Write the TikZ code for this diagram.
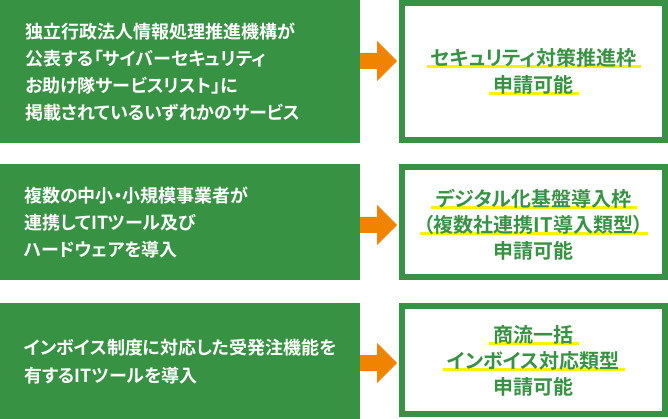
\documentclass[tikz,border=0pt]{standalone}
\usepackage{fontspec}
\newfontfamily\jpb{Noto Sans CJK JP}[BoldFont={* Bold},RawFeature=+palt]
\definecolor{grn}{RGB}{56,146,67}
\definecolor{org}{RGB}{240,131,0}
\definecolor{ylw}{RGB}{255,240,0}
\pgfdeclarelayer{bg}
\pgfsetlayers{bg,main}
\tikzset{
  leftbox/.style={fill=grn},
  rightbox/.style={draw=grn, line width=6pt},
  lefttxt/.style={anchor=base west, inner sep=0pt, align=left, text=white,
    font=\jpb\bfseries\fontsize{18}{27.2}\selectfont},
  righttxt/.style={anchor=base, inner sep=0pt, text=grn,
    font=\jpb\bfseries\fontsize{20}{26}\selectfont},
  hlline/.style={draw=ylw, line width=3pt},
  arr/.style={fill=org}
}
\newcommand{\hl}[1]{\begin{pgfonlayer}{bg}\draw[hlline] ([xshift=-4pt,yshift=-0.8pt]#1.base west) -- ([xshift=5pt,yshift=-0.8pt]#1.base east);\end{pgfonlayer}}
\newcommand{\bigarrow}[1]{\fill[arr] (#1) ++(0,-8) -- ++(17,0) -- ++(0,-12) -- ++(20,20) -- ++(-20,20) -- ++(0,-12) -- ++(-17,0) -- cycle;}
\begin{document}
\begin{tikzpicture}[x=1pt,y=-1pt]
\useasboundingbox (0,0) rectangle (668,419);
% left boxes
\fill[leftbox] (0,0) rectangle (360,143);
\fill[leftbox] (0,164) rectangle (360,280);
\fill[leftbox] (0,303) rectangle (360,419);
% right boxes
\draw[rightbox] (402,3) rectangle (665,140);
\draw[rightbox] (402,167) rectangle (665,277);
\draw[rightbox] (402,306) rectangle (665,414);
% left texts (anchored at the baseline of their last line)
\node[lefttxt] (t1) at (25,119.8) {独立行政法人情報処理推進機構が\\公表する「サイバーセキュリティ\\お助け隊サービスリスト」に\\掲載されているいずれかのサービス};
\node[lefttxt] (t2) at (24,257) {複数の中小・小規模事業者が\\連携してITツール及び\\ハードウェアを導入};
\node[lefttxt] (t3) at (24,382) {インボイス制度に対応した受発注機能を\\有するITツールを導入};
% right texts
\node[righttxt] (r1a) at (533.5,65.5) {セキュリティ対策推進枠};
\node[righttxt] (r1b) at (533.5,92.5) {申請可能};
\node[righttxt] (r2a) at (533.5,206.5) {デジタル化基盤導入枠};
\node[righttxt] (r2b) at (533.5,232.5) {（複数社連携IT導入類型）};
\node[righttxt] (r2c) at (533.5,258.5) {申請可能};
\node[righttxt] (r3a) at (533.5,342.5) {商流一括};
\node[righttxt] (r3b) at (533.5,368.5) {インボイス対応類型};
\node[righttxt] (r3c) at (533.5,394.5) {申請可能};
\hl{r1a}\hl{r1b}\hl{r2a}\hl{r2b}\hl{r3a}\hl{r3b}
% arrows
\coordinate (a1) at (360,61);
\coordinate (a2) at (360,225);
\coordinate (a3) at (360,363);
\bigarrow{a1}\bigarrow{a2}\bigarrow{a3}
\end{tikzpicture}
\end{document}
